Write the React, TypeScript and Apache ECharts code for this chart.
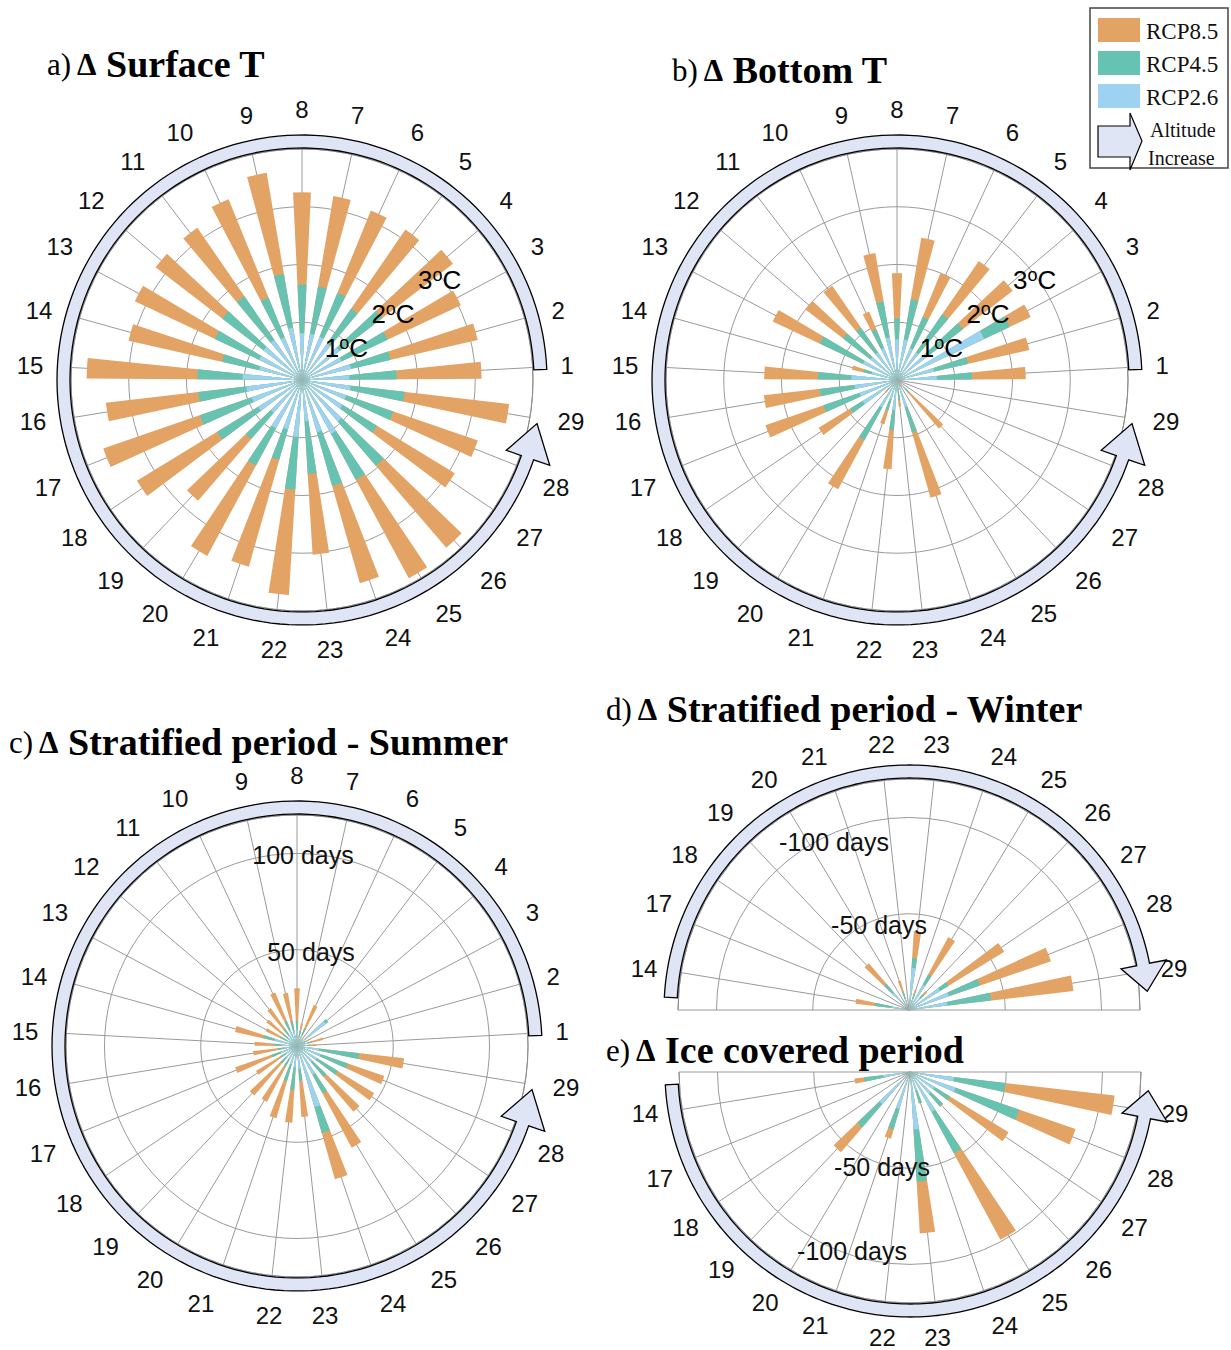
import React, { useEffect, useRef } from "react";
import * as echarts from "echarts";

// ---------------- data ----------------
const lakes = ["1", "2", "3", "4", "5", "6", "7", "8", "9", "10", "11", "12", "13", "14", "15", "16", "17", "18", "19", "20", "21", "22", "23", "24", "25", "26", "27", "28", "29"];
const lakesSemi = ["14", "17", "18", "19", "20", "21", "22", "23", "24", "25", "26", "27", "28", "29"];

// a) Surface temperature change (°C)
const surfaceRCP85 = [3.11, 3.12, 3.04, 3.3, 3.16, 3.17, 3.23, 3.25, 3.64, 3.38, 3.2, 3.2, 3.2, 3.08, 3.73, 3.42, 3.64, 3.35, 2.76, 3.46, 3.36, 3.73, 3.03, 3.66, 3.9, 3.83, 3.1, 3.22, 3.61];
const surfaceRCP45 = [1.64, 1.57, 1.64, 1.75, 1.5, 1.63, 1.64, 1.65, 1.86, 1.54, 1.76, 1.74, 1.67, 1.42, 1.81, 1.81, 1.87, 1.72, 1.35, 1.68, 1.44, 1.9, 1.63, 1.91, 1.96, 1.96, 1.52, 1.67, 1.79];
const surfaceRCP26 = [0.82, 0.87, 0.76, 0.82, 0.76, 0.81, 0.81, 0.81, 0.92, 0.8, 0.84, 0.84, 0.82, 0.76, 1.03, 0.97, 0.92, 0.89, 0.75, 0.95, 0.89, 0.99, 0.72, 0.94, 1.06, 0.95, 0.82, 0.81, 0.85];

// b) Bottom temperature change (°C)
const bottomRCP85 = [2.23, 2.35, 2.56, 2.53, 2.5, 2.0, 2.5, 1.85, 2.23, 1.28, 1.98, 2.0, 2.38, 0.8, 2.3, 2.32, 2.41, 1.59, 0.3, 2.15, 0.8, 1.55, 0.46, 2.12, 0.15, 1.11, 0.1, 0.1, 0.1];
const bottomRCP45 = [1.3, 1.26, 2.16, 1.44, 1.38, 1.18, 1.42, 1.07, 1.38, 0.95, 1.1, 1.18, 1.48, 0.6, 1.37, 1.35, 1.35, 0.95, 0.25, 1.18, 0.55, 0.87, 0.35, 0.94, 0.1, 0.3, 0.05, 0.05, 0.05];
const bottomRCP26 = [0.69, 0.66, 1.67, 0.69, 0.58, 0.6, 0.71, 0.7, 0.75, 0.6, 0.58, 0.58, 0.65, 0.45, 0.79, 0.74, 0.69, 0.7, 0.2, 0.54, 0.35, 0.52, 0.2, 0.49, 0.05, 0.2, 0.03, 0.03, 0.03];

// c) Stratified period - summer (days)
const summerRCP85 = [10, 14, 8, 20, 6, 23, 12, 30, 28, 30, 24, 20, 18, 33, 22, 23, 34, 25, 34, 33, 39, 40, 37, 72, 60, 45, 47, 48, 56];
const summerRCP45 = [7, 8, 5, 20.5, 4, 10, 8, 13, 13, 14, 11, 9, 10, 18, 12, 10, 14, 10, 12, 12, 19, 23, 18, 47, 28, 21, 25, 28, 32.5];
const summerRCP26 = [5, 6, 3, 19, 3, 6, 5, 8.5, 8, 9, 7, 6, 6, 12, 8, 7, 9, 7, 8, 8, 10, 11, 12, 33, 17, 11, 12, 13, 11.6];

// d) Stratified period - winter (days)
const winterRCP85 = [-28, 0, 0, -32, 0, -16, -3, -41, -11, -43, -13, -58, -78, -86];
const winterRCP45 = [-18, 0, 0, -18, 0, -10, -2, -27, -9, -21, -11, -24, -39, -43];
const winterRCP26 = [-9, 0, 0, -12, 0, -6, -1, -22, -6, -15, -8, -19, -22, -20];

// e) Ice covered period (days)
const iceRCP85 = [-29, 0, 0, -55, 0, -36, -2, -84, -17, -99, -24, -60, -91, -107];
const iceRCP45 = [-24, 0, 0, -38, 0, -31, -2, -57, -17, -48, -23.5, -24.5, -60, -50];
const iceRCP26 = [-14, 0, 0, -22, 0, -20, -1, -30, -10, -23.5, -15, -15, -25, -23];

const tempTicks = [1, 2, 3];
const dayTicks = [50, 100];
const scenarioNames = ["RCP8.5", "RCP4.5", "RCP2.6"];

// ---------------- styling ----------------
const C85 = "#E2A365";
const C45 = "#66C2B1";
const C26 = "#9DD3F0";
const ARROW_FILL = "#DFE5F4";
const GRID = "#9a9a9a";
const SANS = "Liberation Sans, Arial, sans-serif";
const SERIF = "Liberation Serif, Times New Roman, serif";
const R = 231;
const STEP = 360 / lakes.length;
const FIRST = 90 - 7 * STEP;
const SEMI_MARGIN = (180 - (lakesSemi.length - 1) * STEP) / 2;
const TEMP_MAX = 4;
const DAY_MAX = 120;
const BAR_W = "44%";

const rad = (a: number) => (a * Math.PI) / 180;
const pt = (cx: number, cy: number, r: number, a: number) => [cx + r * Math.cos(rad(a)), cy - r * Math.sin(rad(a))];

function arcArrow(cx: number, cy: number, a0: number, a1: number, tipA: number) {
  const rIn = 232, rOut = 245, hIn = 216, hOut = 262, rTip = 239;
  const pts: number[][] = [];
  const steps = 160;
  for (let i = 0; i <= steps; i++) pts.push(pt(cx, cy, rOut, a0 + ((a1 - a0) * i) / steps));
  pts.push(pt(cx, cy, hOut, a1));
  pts.push(pt(cx, cy, rTip, tipA));
  pts.push(pt(cx, cy, hIn, a1));
  for (let i = steps; i >= 0; i--) pts.push(pt(cx, cy, rIn, a0 + ((a1 - a0) * i) / steps));
  return {
    type: "polygon",
    silent: true,
    z: 5,
    shape: { points: pts },
    style: { fill: ARROW_FILL, stroke: "#000", lineWidth: 1.3 },
  };
}

function buildOption() {
  const polar: any[] = [];
  const angleAxis: any[] = [];
  const radiusAxis: any[] = [];
  const series: any[] = [];
  const graphic: any[] = [];
  const hidden = { axisLine: { show: false }, axisTick: { show: false }, axisLabel: { show: false }, splitLine: { show: false } };
  const grid = { show: true, lineStyle: { color: GRID, width: 1 } };
  const labels = (names: string[], margin: number) => ({
    show: true,
    margin,
    fontSize: 24,
    color: "#111",
    fontFamily: SANS,
    formatter: (v: number) => names[Math.round(v)] ?? "",
  });

  // each scenario gets its own (invisible) polar so that the three bars overlap at full width
  const addBars = (
    cx: number, cy: number, names: string[], angleCfg: any, max: number,
    d85: number[], d45: number[], d26: number[]
  ) => {
    [d85, d45, d26].forEach((d, k) => {
      const b = polar.length;
      polar.push({ center: [cx, cy], radius: R });
      angleAxis.push({ polarIndex: b, type: "category", data: names, ...angleCfg, ...hidden });
      radiusAxis.push({ polarIndex: b, type: "value", min: 0, max, ...hidden });
      series.push({
        type: "bar",
        name: scenarioNames[k],
        coordinateSystem: "polar",
        polarIndex: b,
        data: d.map((v) => Math.abs(v)),
        barWidth: BAR_W,
        itemStyle: { color: [C85, C45, C26][k] },
        silent: true,
        z: 3 + k,
      });
    });
  };

  const fullPanel = (cx: number, cy: number, max: number, interval: number, d85: number[], d45: number[], d26: number[]) => {
    const g = polar.length;
    polar.push({ center: [cx, cy], radius: R });
    angleAxis.push({
      polarIndex: g, type: "value", min: 0, max: lakes.length, interval: 1, startAngle: FIRST, clockwise: false,
      axisLine: { show: true, lineStyle: { color: "#8c8c8c", width: 1 } }, axisTick: { show: false },
      splitLine: grid, axisLabel: labels(lakes, 28),
    });
    radiusAxis.push({
      polarIndex: g, type: "value", min: 0, max, interval,
      axisLine: { show: false }, axisTick: { show: false }, axisLabel: { show: false }, splitLine: grid,
    });
    addBars(cx, cy, lakes, { startAngle: FIRST - STEP / 2, clockwise: false }, max, d85, d45, d26);
  };

  const semiPanel = (cx: number, cy: number, up: boolean, d85: number[], d45: number[], d26: number[]) => {
    const n = lakesSemi.length;
    const dir = up ? -1 : 1;
    const first = 180 + dir * SEMI_MARGIN;
    const last = first + dir * (n - 1) * STEP;
    const f = polar.length;
    polar.push({ center: [cx, cy], radius: R });
    angleAxis.push({
      polarIndex: f, type: "value", min: 0, max: 1, interval: 1, startAngle: 180, endAngle: up ? 0 : 360, clockwise: up,
      axisLine: { show: true, lineStyle: { color: "#8c8c8c", width: 1 } }, axisTick: { show: false }, axisLabel: { show: false }, splitLine: grid,
    });
    radiusAxis.push({
      polarIndex: f, type: "value", min: 0, max: DAY_MAX, interval: 50,
      axisLine: { show: false }, axisTick: { show: false }, axisLabel: { show: false }, splitLine: grid,
    });
    const s = polar.length;
    polar.push({ center: [cx, cy], radius: R });
    angleAxis.push({
      polarIndex: s, type: "value", min: 0, max: n - 1, interval: 1, startAngle: first, endAngle: last, clockwise: up,
      axisLine: { show: false }, axisTick: { show: false }, splitLine: grid, axisLabel: labels(lakesSemi, 24),
    });
    radiusAxis.push({ polarIndex: s, type: "value", min: 0, max: DAY_MAX, ...hidden });
    addBars(
      cx, cy, lakesSemi,
      { startAngle: first - (dir * STEP) / 2, endAngle: last + (dir * STEP) / 2, clockwise: up },
      DAY_MAX, d85, d45, d26
    );
  };

  // panel centres
  const A = [302, 380], B = [897, 380], Cc = [297, 1046], D = [909, 1010], E = [910, 1072];

  fullPanel(A[0], A[1], TEMP_MAX, 1, surfaceRCP85, surfaceRCP45, surfaceRCP26);
  fullPanel(B[0], B[1], TEMP_MAX, 1, bottomRCP85, bottomRCP45, bottomRCP26);
  fullPanel(Cc[0], Cc[1], DAY_MAX, 50, summerRCP85, summerRCP45, summerRCP26);
  semiPanel(D[0], D[1], true, winterRCP85, winterRCP45, winterRCP26);
  semiPanel(E[0], E[1], false, iceRCP85, iceRCP45, iceRCP26);

  // arrows
  graphic.push(arcArrow(A[0], A[1], 2.5, 341, 349.5));
  graphic.push(arcArrow(B[0], B[1], 2.5, 341, 349.5));
  graphic.push(arcArrow(Cc[0], Cc[1], 2.5, 341, 349.5));
  graphic.push(arcArrow(D[0], D[1], 177, 11, 4.5));
  graphic.push(arcArrow(E[0], E[1], 183, 349, 355.5));

  // temperature ring labels
  const degLabel = (cx: number, cy: number, v: number) => {
    const r = (v / TEMP_MAX) * R - 3;
    const p = pt(cx, cy, r, 36);
    return {
      type: "text", silent: true, z: 8, x: p[0], y: p[1],
      style: {
        text: `{n|${v}}{s|o}{n|C}`, align: "center", verticalAlign: "middle",
        rich: {
          n: { fontSize: 26, fontFamily: SANS, fill: "#000", color: "#000", lineHeight: 28 },
          s: { fontSize: 18, fontFamily: SANS, fill: "#000", color: "#000", verticalAlign: "top", lineHeight: 28, padding: [0, 0, 8, 0] },
        },
      },
    };
  };
  tempTicks.forEach((v) => {
    graphic.push(degLabel(A[0], A[1], v));
    graphic.push(degLabel(B[0], B[1], v));
  });

  const dayText = (x: number, y: number, txt: string) => ({
    type: "text", silent: true, z: 8, x, y,
    style: { text: txt, align: "center", verticalAlign: "middle", fontSize: 25, fontFamily: SANS, fill: "#111" },
  });
  const rDay = (v: number) => (v / DAY_MAX) * R;
  // c) summer
  graphic.push(dayText(Cc[0] + 14, Cc[1] - rDay(dayTicks[0]) + 2, `${dayTicks[0]} days`));
  graphic.push(dayText(Cc[0] + 6, Cc[1] - rDay(dayTicks[1]) + 1, `${dayTicks[1]} days`));
  // d) winter
  graphic.push(dayText(D[0] - 30, D[1] - Math.sqrt(rDay(dayTicks[0]) ** 2 - 30 * 30) + 6, `-${dayTicks[0]} days`));
  graphic.push(dayText(D[0] - 75, D[1] - Math.sqrt(rDay(dayTicks[1]) ** 2 - 75 * 75) + 9, `-${dayTicks[1]} days`));
  // e) ice
  graphic.push(dayText(E[0] - 28, E[1] + Math.sqrt(rDay(dayTicks[0]) ** 2 - 28 * 28) + 3, `-${dayTicks[0]} days`));
  graphic.push(dayText(E[0] - 58, E[1] + Math.sqrt(rDay(dayTicks[1]) ** 2 - 58 * 58) - 5, `-${dayTicks[1]} days`));

  // titles
  const title = (x: number, y: number, tag: string, name: string) => ({
    type: "text", silent: true, z: 8, x, y,
    style: {
      text: `{t|${tag}}{d| Δ }{b|${name}}`, align: "left", verticalAlign: "middle",
      rich: {
        t: { fontSize: 31, fontFamily: SERIF, fill: "#000", color: "#000" },
        d: { fontSize: 31, fontFamily: SERIF, fontWeight: "bold", fill: "#000", color: "#000" },
        b: { fontSize: 38, fontFamily: SERIF, fontWeight: "bold", fill: "#000", color: "#000" },
      },
    },
  });
  graphic.push(title(47, 64, "a)", "Surface T"));
  graphic.push(title(672, 70, "b)", "Bottom T"));
  graphic.push(title(9, 742, "c)", "Stratified period - Summer"));
  graphic.push(title(606, 709, "d)", "Stratified period - Winter"));
  graphic.push(title(606, 1050, "e)", "Ice covered period"));

  // legend
  graphic.push({ type: "rect", silent: true, z: 8, shape: { x: 1090, y: 8, width: 138, height: 160 }, style: { fill: "#fff", stroke: "#444", lineWidth: 1.5 } });
  [C85, C45, C26].forEach((c, k) => {
    const y = [18, 51, 84][k];
    graphic.push({ type: "rect", silent: true, z: 9, shape: { x: 1098, y, width: 42, height: 24 }, style: { fill: c } });
    graphic.push({
      type: "text", silent: true, z: 9, x: 1146, y: y + 13,
      style: { text: scenarioNames[k], align: "left", verticalAlign: "middle", fontSize: 23, fontFamily: SERIF, fill: "#111" },
    });
  });
  graphic.push({
    type: "polygon", silent: true, z: 9,
    shape: { points: [[1098, 126], [1130, 126], [1130, 113], [1142, 141], [1130, 170], [1130, 157], [1098, 157]] },
    style: { fill: ARROW_FILL, stroke: "#000", lineWidth: 1.2 },
  });
  graphic.push({ type: "text", silent: true, z: 9, x: 1150, y: 130, style: { text: "Altitude", align: "left", verticalAlign: "middle", fontSize: 20, fontFamily: SERIF, fill: "#111" } });
  graphic.push({ type: "text", silent: true, z: 9, x: 1148, y: 158, style: { text: "Increase", align: "left", verticalAlign: "middle", fontSize: 20, fontFamily: SERIF, fill: "#111" } });

  return { animation: false, backgroundColor: "#fff", polar, angleAxis, radiusAxis, series, graphic };
}

export default function App() {
  const ref = useRef<HTMLDivElement>(null);
  useEffect(() => {
    document.body.style.margin = "0";
    const chart = echarts.init(ref.current as HTMLDivElement, null, { renderer: "svg" });
    chart.setOption(buildOption() as any);
    return () => chart.dispose();
  }, []);
  return <div ref={ref} style={{ width: 1231, height: 1350 }} />;
}
